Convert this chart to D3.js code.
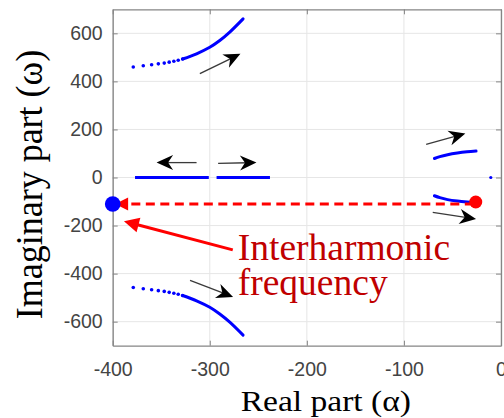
<!DOCTYPE html>
<html><head><meta charset="utf-8">
<script src="https://cdn.jsdelivr.net/npm/d3@7"></script>
<style>html,body{margin:0;padding:0;background:#fff;}svg{display:block;}</style>
</head><body>
<script>
// ---- data ----
const xTicks = [-400, -300, -200, -100, 0];
const yTicks = [-600, -400, -200, 0, 200, 400, 600];
// upper branch: sparse dots then continuous part
const upperDots = [[-378.8,460],[-368.5,465],[-359.9,469],[-353,473],[-346.9,476],[-341.8,480],[-337,484],[-332.5,488],[-328,493]];
const upperLine = [[-328,493],[-313.6,515],[-300,542],[-289.7,570],[-279.4,605],[-265.7,660]];
const lowerDots = [[-378.8,-458],[-368.5,-463],[-359.9,-467],[-353,-471],[-346.9,-474],[-341.8,-478],[-337,-482],[-332.5,-486],[-328,-491]];
const lowerLine = [[-328,-491],[-313.6,-513],[-300,-540],[-289.7,-568],[-279.4,-602],[-265.7,-656]];
const realSeg1 = [[-377,0],[-301,0]];
const realSeg2 = [[-293,0],[-238,0]];
const rightUpper = [[-68.6,79],[-63,87],[-55,95],[-45,102],[-35,107],[-25.7,110]];
const rightLower = [[-68.6,-76],[-63,-84],[-55,-92],[-45,-98],[-35,-102],[-28,-104]];
const isolatedDot = [-10.5, 0];
const blueMarker = [-400, -110];
const redMarker = [-26, -102];
// black direction arrows: [tailX, tailY, tipX, tipY]
const blackArrows = [
  [-310.2, 432, -268.4, 514.5],
  [-320.3, -428, -276, -497],
  [-313.6, 62, -354.8, 62],
  [-291.4, 59, -251.9, 62],
  [-77.1, 138, -36.7, 183],
  [-70.3, -145, -25.7, -173]
];
const redArrow = [-276.3, -301, -388.4, -182];
const dashedArrow = [-28, -110.5, -397.5, -110.5];
const annotLines = ["Interharmonic", "frequency"];
const annotPos = [[-271.2, -342.4], [-271.2, -490.3]];
const xLabel = "Real part (\u03b1)";
const yLabel = "Imaginary part (\u03c9)";

// ---- layout ----
const W = 504, H = 418;
const m = {l: 112.7, r: 3, t: 9.3, b: 72.3};
const svg = d3.select("body").append("svg").attr("width", W).attr("height", H);
const x = d3.scaleLinear().domain([-400, 0]).range([m.l, W - m.r]);
const y = d3.scaleLinear().domain([-700, 700]).range([H - m.b, m.t]);
const blue = "#0000ff";

// grid
const g = svg.append("g");
g.selectAll(".gx").data(xTicks).join("line")
  .attr("x1", d => x(d)).attr("x2", d => x(d)).attr("y1", y(-700)).attr("y2", y(700))
  .attr("stroke", "#e6e6e6").attr("stroke-width", 1);
g.selectAll(".gy").data(yTicks).join("line")
  .attr("y1", d => y(d)).attr("y2", d => y(d)).attr("x1", x(-400)).attr("x2", x(0))
  .attr("stroke", "#e6e6e6").attr("stroke-width", 1);

// axes
const axCol = "#858585";
const tickLen = 5;
const axB = svg.append("g").attr("transform", `translate(0,${y(-700)})`)
  .call(d3.axisBottom(x).tickValues(xTicks).tickSizeInner(-tickLen).tickSizeOuter(0).tickPadding(16));
const axT = svg.append("g").attr("transform", `translate(0,${y(700)})`)
  .call(d3.axisTop(x).tickValues(xTicks).tickSizeInner(-tickLen).tickSizeOuter(0).tickFormat(""));
const axL = svg.append("g").attr("transform", `translate(${x(-400)},0)`)
  .call(d3.axisLeft(y).tickValues(yTicks).tickSizeInner(-tickLen).tickSizeOuter(0).tickPadding(10));
const axR = svg.append("g").attr("transform", `translate(${x(0)},0)`)
  .call(d3.axisRight(y).tickValues(yTicks).tickSizeInner(-tickLen).tickSizeOuter(0).tickFormat(""));
[axB, axT, axL, axR].forEach(a => {
  a.select(".domain").attr("stroke", axCol).attr("stroke-width", 1.3);
  a.selectAll(".tick line").attr("stroke", axCol).attr("stroke-width", 1);
  a.selectAll(".tick text").attr("fill", "#444").style("font-family", "'Liberation Sans', Arial, sans-serif").style("font-size", "19.5px");
});
axB.selectAll(".tick text").text(d => d === 0 ? "0" : d);
axL.selectAll(".tick text").text(d => d);

// data marks
const line = d3.line().x(d => x(d[0])).y(d => y(d[1])).curve(d3.curveCatmullRom);
const lineLin = d3.line().x(d => x(d[0])).y(d => y(d[1]));
const plot = svg.append("g");
[upperLine, lowerLine].forEach(s => plot.append("path").attr("d", line(s)).attr("fill", "none").attr("stroke", blue).attr("stroke-width", 3).attr("stroke-linecap", "round"));
[upperDots, lowerDots].forEach(s => plot.append("g").selectAll("circle").data(s).join("circle")
  .attr("cx", d => x(d[0])).attr("cy", d => y(d[1])).attr("r", 1.8).attr("fill", blue));
[realSeg1, realSeg2].forEach(s => plot.append("path").attr("d", lineLin(s)).attr("fill", "none").attr("stroke", blue).attr("stroke-width", 3.2));
[rightUpper, rightLower].forEach(s => plot.append("path").attr("d", line(s)).attr("fill", "none").attr("stroke", blue).attr("stroke-width", 3).attr("stroke-linecap", "round"));
plot.append("circle").attr("cx", x(isolatedDot[0])).attr("cy", y(isolatedDot[1])).attr("r", 1.6).attr("fill", blue);

// dashed red arrow
const red = "#ff0000";
function headTriangle(tx, ty, fx, fy, len, half) {
  const a = Math.atan2(ty - fy, tx - fx);
  const bx = tx - len * Math.cos(a), by = ty - len * Math.sin(a);
  const px = -Math.sin(a) * half, py = Math.cos(a) * half;
  return `M${tx},${ty}L${bx + px},${by + py}L${bx - px},${by - py}Z`;
}
{
  const [x1, y1, x2, y2] = dashedArrow;
  const tx = x(x2), ty = y(y2), fx = x(x1), fy = y(y1);
  plot.append("line").attr("x1", fx).attr("y1", fy).attr("x2", tx + 10).attr("y2", ty)
    .attr("stroke", red).attr("stroke-width", 3).attr("stroke-dasharray", "9,5.5");
  plot.append("path").attr("d", headTriangle(tx, ty, fx, fy, 13, 6.5)).attr("fill", red);
}
plot.append("circle").attr("cx", x(blueMarker[0])).attr("cy", y(blueMarker[1])).attr("r", 7.8).attr("fill", blue);
plot.append("circle").attr("cx", x(redMarker[0])).attr("cy", y(redMarker[1])).attr("r", 6.5).attr("fill", red);

// solid red arrow
{
  const [x1, y1, x2, y2] = redArrow;
  const tx = x(x2), ty = y(y2), fx = x(x1), fy = y(y1);
  const a = Math.atan2(ty - fy, tx - fx);
  plot.append("line").attr("x1", fx).attr("y1", fy).attr("x2", tx - 12 * Math.cos(a)).attr("y2", ty - 12 * Math.sin(a))
    .attr("stroke", red).attr("stroke-width", 3);
  plot.append("path").attr("d", headTriangle(tx, ty, fx, fy, 15, 7.5)).attr("fill", red);
}

// black arrows (vback style)
function vback(tx, ty, fx, fy, len, half, notch) {
  const a = Math.atan2(ty - fy, tx - fx);
  const c = Math.cos(a), s = Math.sin(a);
  const bx = tx - len * c, by = ty - len * s;
  const nx = tx - (len - notch) * c, ny = ty - (len - notch) * s;
  return `M${tx},${ty}L${bx - s * half},${by + c * half}L${nx},${ny}L${bx + s * half},${by - c * half}Z`;
}
blackArrows.forEach(([x1, y1, x2, y2]) => {
  const tx = x(x2), ty = y(y2), fx = x(x1), fy = y(y1);
  const a = Math.atan2(ty - fy, tx - fx);
  plot.append("line").attr("x1", fx).attr("y1", fy).attr("x2", tx - 9 * Math.cos(a)).attr("y2", ty - 9 * Math.sin(a))
    .attr("stroke", "#3a3a3a").attr("stroke-width", 1.3);
  plot.append("path").attr("d", vback(tx, ty, fx, fy, 16.5, 7.5, 5)).attr("fill", "#000");
});

// annotation text
annotLines.forEach((t, i) => {
  svg.append("text").attr("x", x(annotPos[i][0])).attr("y", y(annotPos[i][1]))
    .attr("fill", "#c00000").style("font-family", "'Liberation Serif', 'Times New Roman', serif").style("font-size", "37.5px").text(t);
});

// axis labels
svg.append("text").attr("transform", `translate(${(240 + 411.7) / 2},411) scale(1.1,1)`)
  .attr("text-anchor", "middle").attr("fill", "#000")
  .style("font-family", "'Liberation Serif', 'Times New Roman', serif").style("font-size", "30.5px").text(xLabel);
svg.append("text").attr("transform", `translate(41.5,${(48.3 + 320.7) / 2}) scale(1.08,1) rotate(-90)`)
  .attr("text-anchor", "middle").attr("fill", "#000")
  .style("font-family", "'Liberation Serif', 'Times New Roman', serif").style("font-size", "36px").text(yLabel);
</script>
</body></html>
